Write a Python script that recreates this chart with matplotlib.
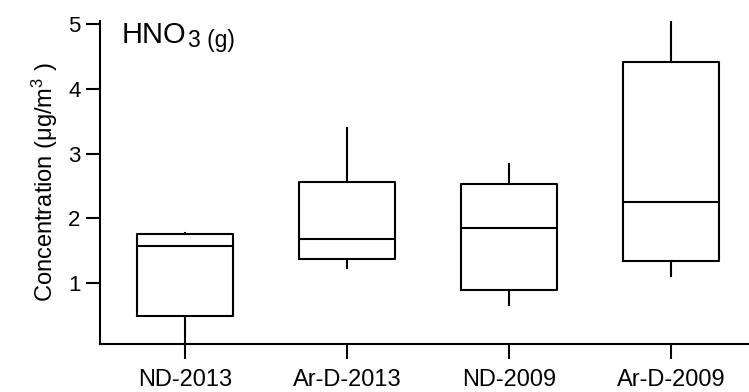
import matplotlib
matplotlib.use('Agg')
import matplotlib.pyplot as plt

# box statistics (ug/m3)
groups = ['ND-2013', 'Ar-D-2013', 'ND-2009', 'Ar-D-2009']
whislo = [0.06, 1.23, 0.66, 1.11]
q1 = [0.49, 1.37, 0.89, 1.34]
med = [1.57, 1.68, 1.86, 2.25]
q3 = [1.76, 2.56, 2.53, 4.41]
whishi = [1.77, 3.39, 2.84, 5.03]

plt.rcParams['font.family'] = 'Liberation Sans'
plt.rcParams['mathtext.fontset'] = 'custom'
plt.rcParams['mathtext.rm'] = 'Liberation Sans'
plt.rcParams['mathtext.it'] = 'Liberation Sans:italic'

W, H = 749, 392
fig = plt.figure(figsize=(W / 100, H / 100), dpi=100)
ax = fig.add_axes([0.1335, 0.1224, 0.8665, 0.824])

stats = []
for i in range(len(groups)):
    stats.append({'label': groups[i], 'whislo': whislo[i], 'q1': q1[i], 'med': med[i],
                  'q3': q3[i], 'whishi': whishi[i], 'fliers': []})

lw = 1.5
ax.bxp(stats, positions=range(len(groups)), widths=0.59, showcaps=False,
       showfliers=False, patch_artist=False,
       boxprops=dict(color='black', linewidth=lw),
       medianprops=dict(color='black', linewidth=lw),
       whiskerprops=dict(color='black', linewidth=lw))

ax.set_xlim(-0.525, 3.48)
ax.set_ylim(0.06, 5.05)
ax.set_yticks([1, 2, 3, 4, 5])
ax.set_xticks(range(len(groups)))
ax.set_xticklabels(groups)

for s in ['top', 'right']:
    ax.spines[s].set_visible(False)
for s in ['left', 'bottom']:
    ax.spines[s].set_linewidth(lw)

ax.tick_params(axis='y', direction='out', length=10, width=lw, labelsize=16, pad=4)
ax.tick_params(axis='x', direction='out', length=11, width=lw, labelsize=17, pad=7)

fig.text(45 / W, 1 - 182 / H, r'Concentration ($\mathrm{\mu}$g/m$^{3}$ )', fontsize=17,
         rotation=90, ha='center', va='center')

# species label: main text plus a separate subscript
t1 = fig.text(122 / W, 1 - 43 / H, 'HNO', fontsize=21, ha='left', va='baseline')
fig.canvas.draw()
bb = t1.get_window_extent()
fig.text((bb.x1 + 1) / W, 1 - 47 / H, '3 (g)', fontsize=16.5, ha='left', va='baseline')

fig.savefig('out.png', dpi=100)
